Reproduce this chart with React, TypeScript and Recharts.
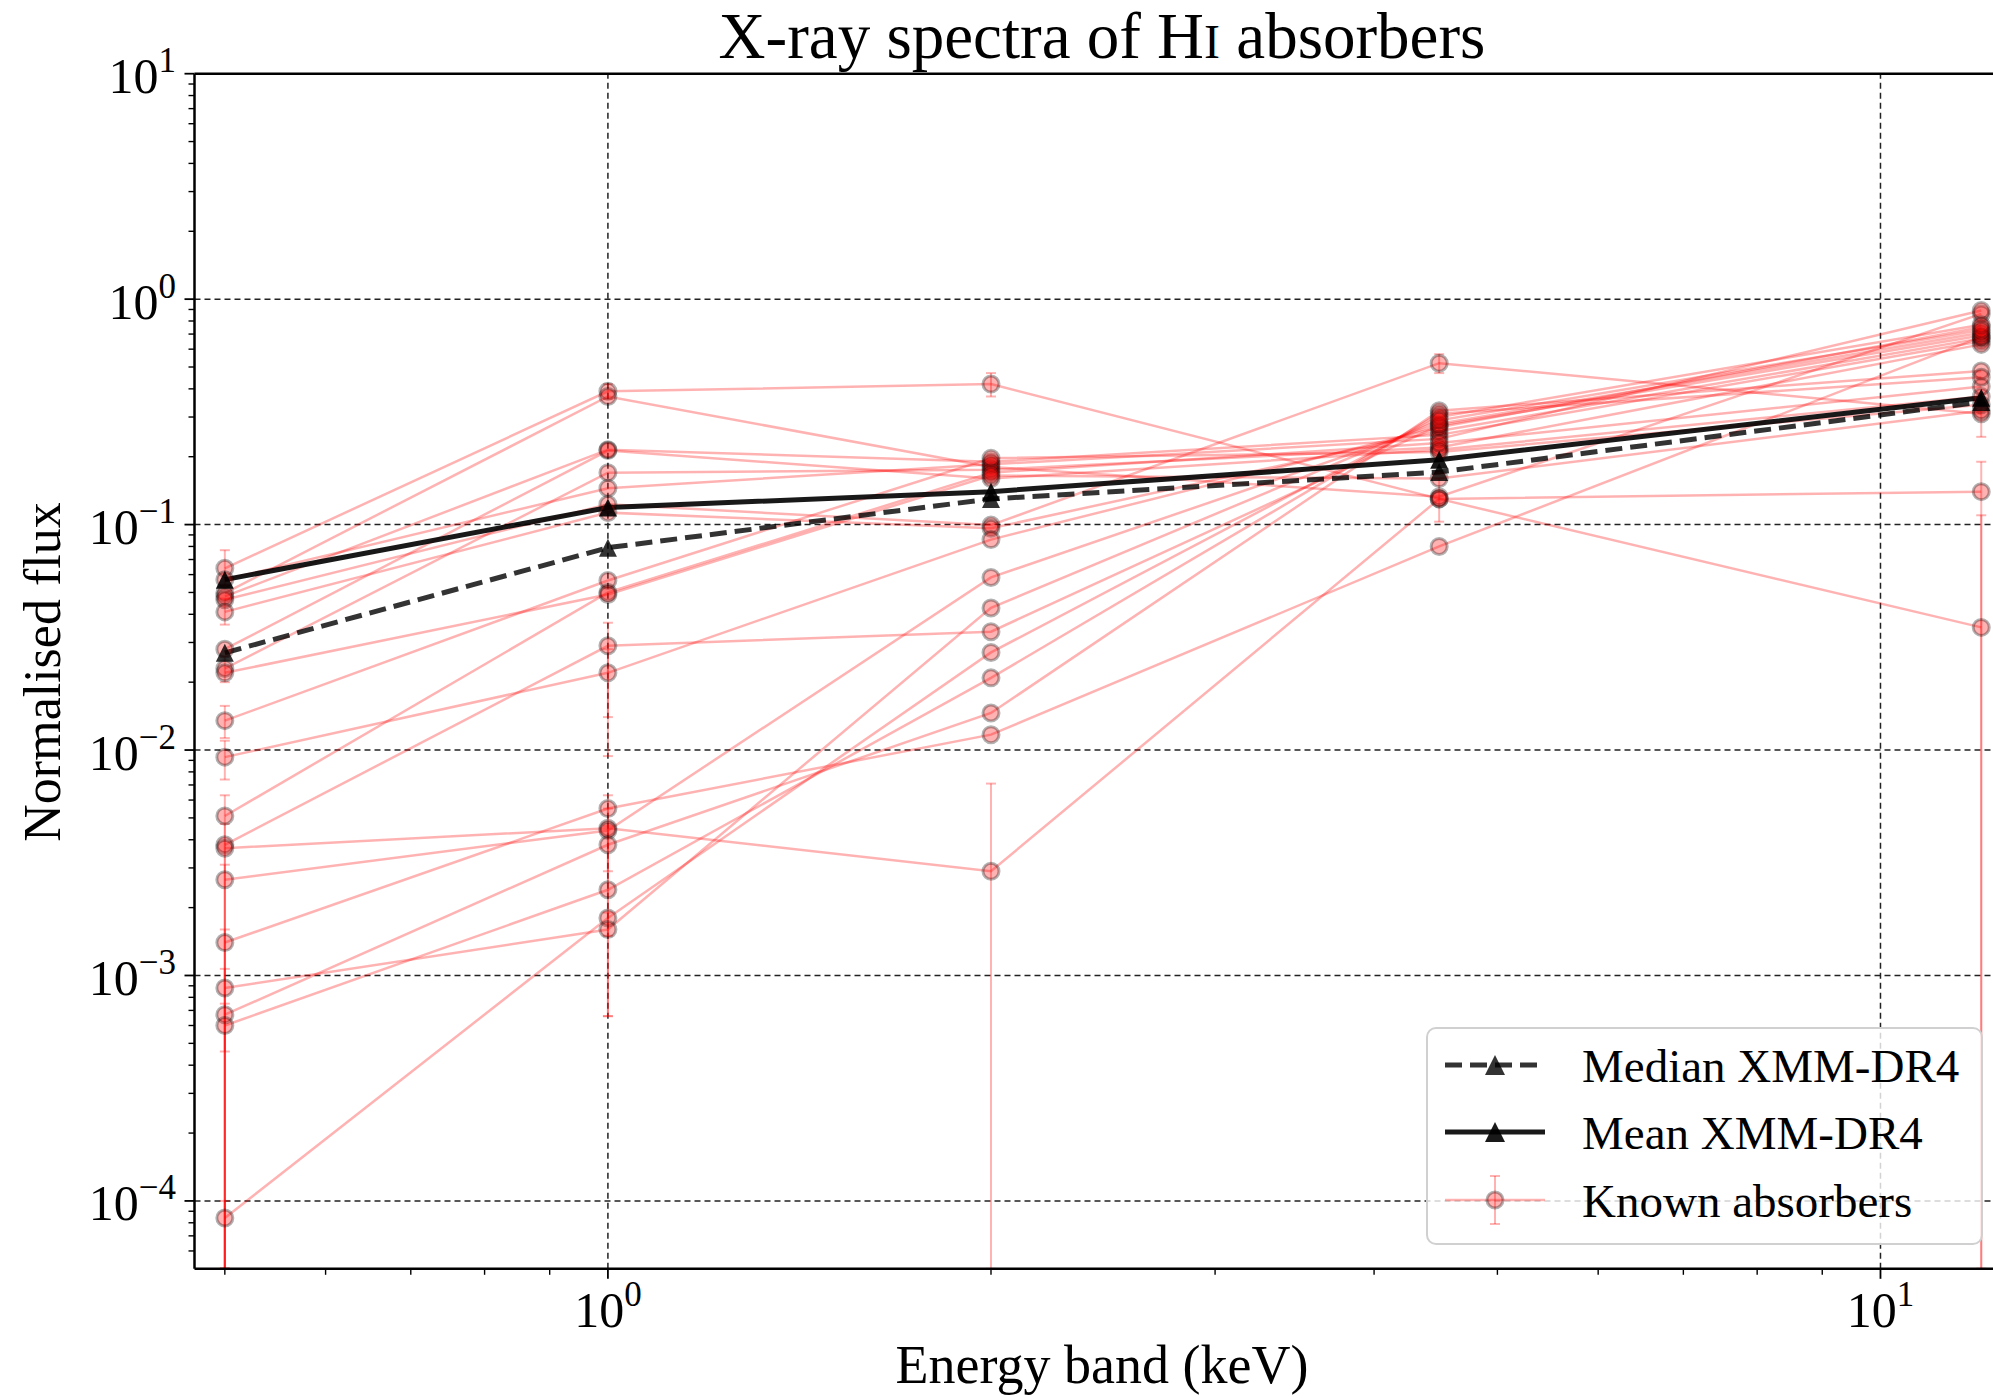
import React from 'react';
import { LineChart, Line, XAxis, YAxis, ReferenceLine, ErrorBar, Legend, Customized } from 'recharts';

const FONT = "'Liberation Serif', 'DejaVu Serif', serif";
const FLOOR = 5e-5;

// band centres (keV)
const bands = [0.5, 1, 2, 4.5, 12];

// normalised flux of each known absorber, one array per band (same source order)
const flux05 = [0.064, 0.0497, 0.048, 0.028, 0.023, 0.057, 0.0464, 0.041, 0.0135, 0.0051, 0.022, 0.0038, 0.0093, 0.0014, 0.00367, 0.00266, 0.00067, 0.0006, 0.000084, 0.00088];
const flux1 = [0.39, 0.37, 0.215, 0.213, 0.17, 0.145, 0.123, 0.113, 0.0565, 0.05, 0.049, 0.029, 0.022, 0.0055, 0.0045, 0.0044, 0.0038, 0.0024, 0.0018, 0.0016];
const flux2 = [0.42, 0.18, 0.19, 0.16, 0.175, 0.185, 0.0995, 0.0963, 0.197, 0.17, 0.165, 0.0335, 0.0858, 0.0117, 0.0029, 0.0583, 0.0146, 0.0209, 0.0271, 0.0427];
const flux45 = [0.13, 0.133, 0.25, 0.215, 0.22, 0.24, 0.52, 0.26, 0.21, 0.23, 0.16, 0.275, 0.27, 0.08, 0.13, 0.28, 0.32, 0.31, 0.3, 0.29];
const flux12 = [0.035, 0.86, 0.65, 0.37, 0.63, 0.89, 0.31, 0.67, 0.34, 0.41, 0.32, 0.69, 0.75, 0.68, 0.14, 0.71, 0.48, 0.45, 0.77, 0.73];

// [lower, upper] flux bounds where the error bar is larger than the marker
type Bound = [number, number] | null;
const err05: Bound[] = [[0.054, 0.077], null, null, null, [0.02, 0.026], null, null, [0.036, 0.047], [0.0113, 0.0157], [FLOOR, 0.0063], null, [FLOOR, 0.0047], [0.0074, 0.011], [FLOOR, 0.0016], null, [FLOOR, 0.0031], [FLOOR, 0.00107], [0.00046, 0.00075], [FLOOR, 0.0001], null];
const err1: Bound[] = [[0.36, 0.42], null, null, null, null, null, null, null, null, null, null, [0.014, 0.0367], [0.0094, 0.028], [0.0029, 0.0063], [0.00066, 0.0055], null, [0.0015, 0.0046], null, null, [0.00066, 0.0019]];
const err2: Bound[] = [[0.37, 0.47], null, null, null, null, null, null, null, null, null, null, null, null, null, [FLOOR, 0.0071], null, null, null, null, null];
const err45: Bound[] = [[0.103, 0.16], null, null, null, null, null, [0.47, 0.57], null, null, null, null, null, null, null, null, null, null, null, null, null];
const err12: Bound[] = [[FLOOR, 0.11], null, null, null, null, null, [0.245, 0.38], null, null, null, null, null, null, null, [FLOOR, 0.19], null, null, null, null, null];

const medianFlux = [0.027, 0.079, 0.13, 0.171, 0.35];
const meanFlux = [0.057, 0.119, 0.14, 0.194, 0.365];

const xMajor = [1, 10];
const xMinor = [0.5, 0.6, 0.7, 0.8, 0.9, 2, 3, 4, 5, 6, 7, 8, 9];
const yMajor = [1e-4, 1e-3, 1e-2, 1e-1, 1, 10];
const yMinor: number[] = [];
for (let e = -5; e <= 0; e++) {
  for (let m = 2; m <= 9; m++) {
    const v = m * Math.pow(10, e);
    if (v > FLOOR && v < 10) yMinor.push(v);
  }
}

const fluxByBand = [flux05, flux1, flux2, flux45, flux12];
const errByBand = [err05, err1, err2, err45, err12];

const absorbers = flux05.map((_, i) =>
  bands.map((band, j) => {
    const flux = fluxByBand[j][i];
    const b = errByBand[j][i];
    return { band, flux, err: b ? [flux - b[0], b[1] - flux] : undefined };
  })
);
const medianRows = bands.map((band, j) => ({ band, flux: medianFlux[j] }));
const meanRows = bands.map((band, j) => ({ band, flux: meanFlux[j] }));

const isMajor = (v: number) => Math.abs(Math.log10(v) - Math.round(Math.log10(v))) < 1e-6;
const expText = (v: number) => String(Math.round(Math.log10(v))).replace('-', '\u2212');

const renderXTick = (props: any) => {
  const { x, y, payload } = props;
  const major = isMajor(payload.value);
  return (
    <g key={`xt-${payload.value}`}>
      <line x1={x} x2={x} y1={y} y2={y + (major ? 10 : 6)} stroke="#000" strokeWidth={major ? 1.8 : 1.4} />
      {major && (
        <text x={x} y={y + 58} textAnchor="middle" fontFamily={FONT} fontSize={50} fill="#000">
          10<tspan dy={-21} fontSize={35}>{expText(payload.value)}</tspan>
        </text>
      )}
    </g>
  );
};

const renderYTick = (props: any) => {
  const { x, y, payload } = props;
  const major = isMajor(payload.value);
  return (
    <g key={`yt-${payload.value}`}>
      <line x1={x} x2={x - (major ? 10 : 6)} y1={y} y2={y} stroke="#000" strokeWidth={major ? 1.8 : 1.4} />
      {major && (
        <text x={x - 18.5} y={y + 19.5} textAnchor="end" fontFamily={FONT} fontSize={50} fill="#000">
          10<tspan dy={-21} fontSize={35}>{expText(payload.value)}</tspan>
        </text>
      )}
    </g>
  );
};

const triangle = (cx: number, cy: number, s: number) =>
  `M${cx},${cy - s / 2} L${cx + s / 2},${cy + s / 2} L${cx - s / 2},${cy + s / 2} Z`;

const medianDot = (props: any) => {
  const { cx, cy, index } = props;
  if (cx == null || cy == null) return <g key={`md-${index}`} />;
  return <path key={`md-${index}`} d={triangle(cx, cy, 18)} fill="#000" fillOpacity={0.8} />;
};
const meanDot = (props: any) => {
  const { cx, cy, index } = props;
  if (cx == null || cy == null) return <g key={`mn-${index}`} />;
  return <path key={`mn-${index}`} d={triangle(cx, cy, 18)} fill="#000" fillOpacity={0.9} />;
};

const Labels = () => (
  <g fontFamily={FONT} fill="#000">
    <text x={1102} y={58} textAnchor="middle" fontSize={65}>
      X-ray spectra of H<tspan fontSize={48}>I</tspan> absorbers
    </text>
    <text x={1102} y={1383} textAnchor="middle" fontSize={54}>
      Energy band (keV)
    </text>
    <text x={60} y={672} textAnchor="middle" fontSize={52} transform="rotate(-90, 60, 672)">
      Normalised flux
    </text>
  </g>
);

const LegendBox = () => (
  <svg width={557} height={218} style={{ display: 'block' }} fontFamily={FONT}>
    <rect x={1} y={1} width={555} height={216} rx={9} fill="#fff" fillOpacity={0.8} stroke="#d0d0d0" strokeWidth={2} />
    <line x1={19} x2={119} y1={38} y2={38} stroke="#000" strokeOpacity={0.8} strokeWidth={5} strokeDasharray="17 8" />
    <path d={triangle(69, 38, 20)} fill="#000" fillOpacity={0.8} />
    <text x={156} y={55} fontSize={47} fill="#000">Median XMM-DR4</text>
    <line x1={19} x2={119} y1={105} y2={105} stroke="#000" strokeOpacity={0.9} strokeWidth={5} />
    <path d={triangle(69, 105, 20)} fill="#000" fillOpacity={0.9} />
    <text x={156} y={122} fontSize={47} fill="#000">Mean XMM-DR4</text>
    <line x1={19} x2={119} y1={173} y2={173} stroke="red" strokeOpacity={0.3} strokeWidth={2.5} />
    <line x1={69} x2={69} y1={149} y2={197} stroke="red" strokeOpacity={0.3} strokeWidth={2} />
    <line x1={64} x2={74} y1={149} y2={149} stroke="red" strokeOpacity={0.3} strokeWidth={2} />
    <line x1={64} x2={74} y1={197} y2={197} stroke="red" strokeOpacity={0.3} strokeWidth={2} />
    <circle cx={69} cy={173} r={8} fill="red" fillOpacity={0.3} stroke="#000" strokeOpacity={0.3} strokeWidth={3} />
    <text x={156} y={190} fontSize={47} fill="#000">Known absorbers</text>
  </svg>
);

export default function App() {
  return (
    <div style={{ position: 'absolute', left: 0, top: 0, width: 1993, height: 1400, overflow: 'hidden', background: '#fff' }}>
      <LineChart width={2030} height={1400} margin={{ top: 73.7, right: 19.6, bottom: 0, left: 0 }}>
        <XAxis
          type="number"
          dataKey="band"
          scale="log"
          domain={[0.4733, 12.65]}
          allowDataOverflow
          ticks={[...xMinor, ...xMajor]}
          interval={0}
          tickSize={0}
          tickMargin={0}
          tickLine={false}
          tick={renderXTick}
          axisLine={{ stroke: '#000', strokeWidth: 2.5 }}
          height={131.2}
        />
        <YAxis
          type="number"
          scale="log"
          domain={[FLOOR, 10]}
          allowDataOverflow
          ticks={[...yMinor, ...yMajor]}
          interval={0}
          tickSize={0}
          tickMargin={0}
          tickLine={false}
          tick={renderYTick}
          axisLine={{ stroke: '#000', strokeWidth: 2.5 }}
          width={194.5}
        />
        {[1e-4, 1e-3, 1e-2, 1e-1, 1].map((v) => (
          <ReferenceLine key={`gy-${v}`} y={v} stroke="#222" strokeWidth={1.5} strokeDasharray="6 4" />
        ))}
        {[1, 10].map((v) => (
          <ReferenceLine key={`gx-${v}`} x={v} stroke="#222" strokeWidth={1.5} strokeDasharray="6 4" />
        ))}
        <ReferenceLine y={10} stroke="#000" strokeWidth={2.5} />
        {absorbers.map((rows, i) => (
          <Line
            key={`abs-${i}`}
            name={`absorber-${i}`}
            data={rows}
            dataKey="flux"
            type="linear"
            stroke="red"
            strokeOpacity={0.3}
            strokeWidth={2.5}
            dot={{ r: 8, fill: 'red', fillOpacity: 0.3, stroke: '#000', strokeOpacity: 0.3, strokeWidth: 3 }}
            activeDot={false}
            isAnimationActive={false}
          >
            <ErrorBar dataKey="err" direction="y" width={5} stroke="red" strokeOpacity={0.3} strokeWidth={2} />
          </Line>
        ))}
        <Line
          name="Median XMM-DR4"
          data={medianRows}
          dataKey="flux"
          type="linear"
          stroke="#000"
          strokeOpacity={0.8}
          strokeWidth={5}
          strokeDasharray="17 8"
          dot={medianDot}
          activeDot={false}
          isAnimationActive={false}
        />
        <Line
          name="Mean XMM-DR4"
          data={meanRows}
          dataKey="flux"
          type="linear"
          stroke="#000"
          strokeOpacity={0.9}
          strokeWidth={5}
          dot={meanDot}
          activeDot={false}
          isAnimationActive={false}
        />
        <Legend
          layout="horizontal"
          align="center"
          verticalAlign="middle"
          content={() => <LegendBox />}
          wrapperStyle={{ left: 1426, top: 1027, width: 557, height: 218 }}
        />
        <Customized component={Labels} />
      </LineChart>
    </div>
  );
}
